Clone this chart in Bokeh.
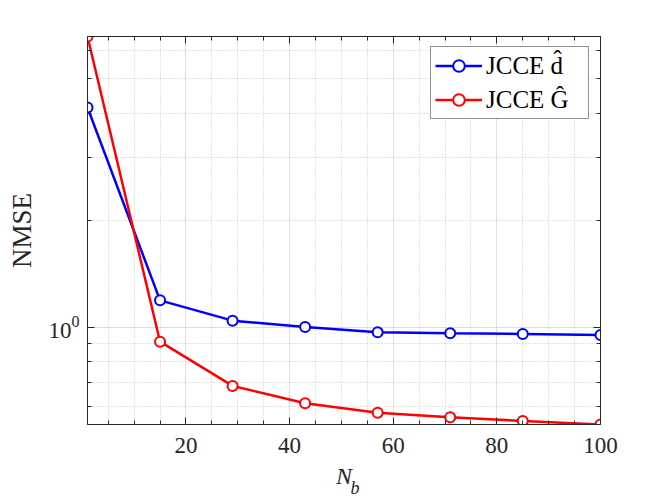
from bokeh.plotting import figure
from bokeh.models import (Range1d, FixedTicker, LinearAxis, LogAxis, Legend, LegendItem, Label,
                          CustomJSTickFormatter)
from bokeh.embed import file_html
from bokeh.resources import INLINE

# ---- data ----
nb = [1, 15, 29, 43, 57, 71, 85, 100]
nmse_d = [4.157, 1.191, 1.044, 1.002, 0.968, 0.962, 0.958, 0.951]
nmse_G = [6.585, 0.911, 0.684, 0.611, 0.575, 0.558, 0.545, 0.5326]
x_ticks = [20, 40, 60, 80, 100]
x_minor = [5, 10, 15, 25, 30, 35, 45, 50, 55, 65, 70, 75, 85, 90, 95]
y_ticks = [1]
y_minor = [0.6, 0.7, 0.8, 0.9, 2, 3, 4, 5, 6]
labels = ["JCCE d\u0302", "JCCE \u011c"]

AX = "#262626"
FONT = "Liberation Serif"

allv = nmse_d + nmse_G
p = figure(width=664, height=498, output_backend="svg", toolbar_location=None,
           x_range=Range1d(min(nb), max(nb)), y_range=Range1d(min(allv), max(allv)),
           y_axis_type="log",
           min_border_left=87, min_border_right=64, min_border_top=36, min_border_bottom=74)
p.background_fill_color = "white"
p.border_fill_color = "white"
p.outline_line_color = AX
p.outline_line_width = 1

xt = FixedTicker(ticks=x_ticks, minor_ticks=x_minor)
yt = FixedTicker(ticks=y_ticks, minor_ticks=y_minor)

def style_axis(ax, ticker):
    ax.ticker = ticker
    ax.axis_line_color = AX
    ax.axis_line_width = 1
    ax.major_tick_line_color = AX
    ax.minor_tick_line_color = AX
    ax.major_tick_in = 7
    ax.major_tick_out = 0
    ax.minor_tick_in = 4
    ax.minor_tick_out = 0
    ax.major_label_text_font = FONT
    ax.major_label_text_font_size = "23px"
    ax.major_label_text_color = AX
    ax.axis_label_text_font = FONT
    ax.axis_label_text_color = AX
    ax.axis_label_text_font_style = "normal"

xa = p.xaxis[0]
ya = p.yaxis[0]
style_axis(xa, xt)
style_axis(ya, yt)
xa.major_label_standoff = 13
ya.major_label_standoff = 8
xa.axis_label = "N"
xa.axis_label_text_font_style = "italic"
xa.axis_label_text_font_size = "24px"
xa.axis_label_standoff = 7
ya.axis_label = "NMSE"
ya.axis_label_text_font_size = "27px"
ya.axis_label_standoff = 8

blank = CustomJSTickFormatter(code="return '';")
top = LinearAxis(formatter=blank)
style_axis(top, xt)
top.major_label_standoff = 0
right = LogAxis(formatter=blank)
style_axis(right, yt)
right.major_label_standoff = 0
p.add_layout(top, "above")
p.add_layout(right, "right")

for g in p.grid:
    g.grid_line_color = AX
    g.grid_line_alpha = 0.15
    g.minor_grid_line_color = AX
    g.minor_grid_line_alpha = 0.25
    g.minor_grid_line_dash = "1 2"
p.xgrid[0].ticker = xt
p.ygrid[0].ticker = yt

series = [(nmse_d, "#0000ff"), (nmse_G, "#ff0000")]
items = []
for (vals, col), lab in zip(series, labels):
    ln = p.line(nb, vals, line_color=col, line_width=2.5)
    sc = p.scatter(nb, vals, marker="circle", size=10, line_color=col, line_width=2,
                   fill_color="white")
    items.append(LegendItem(label=lab, renderers=[ln, sc]))

leg = Legend(items=items, location=(343, 305), label_text_font=FONT,
             label_text_font_size="25px", label_text_color="black",
             label_width=98, label_height=29, glyph_width=47, glyph_height=29,
             label_standoff=4, padding=4, spacing=5, margin=0,
             border_line_color=AX, border_line_width=1, background_fill_alpha=1)
p.add_layout(leg, "center")

# subscript of the x-axis label (N_b), kept in a side panel so it is not clipped
p.add_layout(Label(x=-250, y=-63, x_units="screen", y_units="screen", text="b",
                   text_font=FONT, text_font_style="italic", text_font_size="18px",
                   text_color=AX, text_baseline="alphabetic"), "right")

open("out.html", "w").write(file_html(p, INLINE))
